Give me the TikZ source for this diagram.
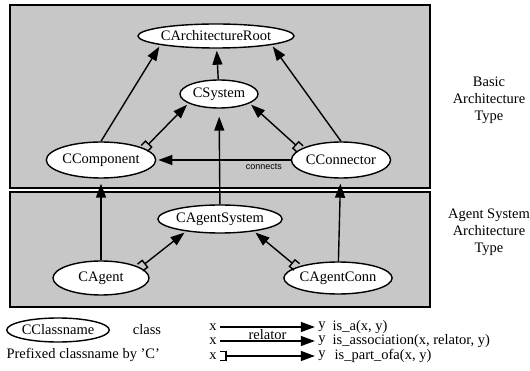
\documentclass[tikz,border=0pt]{standalone}
\usepackage{fontspec}
\setmainfont{Liberation Serif}
\setsansfont{Liberation Sans}
\usetikzlibrary{arrows.meta}
\usetikzlibrary{positioning}
\usetikzlibrary{shapes.geometric}

\begin{document}
\begin{tikzpicture}[x=1pt, y=-1pt, font=\fontsize{14.5}{17}\selectfont,
  cls/.style={ellipse, draw, line width=1.4pt, fill=white, inner sep=0pt},
  layer/.style={draw, line width=1.7pt, fill=black!22},
  isa/.style={line width=1.4pt, -{Triangle[length=14pt,width=10pt]}, shorten >=2pt},
  partof/.style={isa, {Bracket[reversed,width=10pt,length=6pt]}-{Triangle[length=14pt,width=10pt]}}]

\useasboundingbox (0,0) rectangle (530,371);

% the two layers
\draw[layer] (10,5) rectangle (430,188);
\draw[layer] (10,192) rectangle (430,307);
\node[align=center] (basic) at (489,100) {Basic\\Architecture\\Type};
\node[align=center] (agentsys) at (489,232) {Agent System\\Architecture\\Type};

% basic architecture classes
\node[cls, minimum width=112pt, minimum height=24pt] (root) at (216,36) {CArchitectureRoot};
\node[cls, minimum width=78pt, minimum height=28pt] (sys) at (219,94) {CSystem};
\node[cls, minimum width=96pt, minimum height=36pt] (comp) at (101,160) {CComponent};
\node[cls, minimum width=96pt, minimum height=36pt] (conn) at (341,160) {CConnector};

% agent system classes
\node[cls, minimum width=92pt, minimum height=28pt] (asys) at (220,219) {CAgentSystem};
\node[cls, minimum width=96pt, minimum height=34pt] (agent) at (101,278) {CAgent};
\node[cls, minimum width=92pt, minimum height=32pt] (aconn) at (338,278) {CAgentConn};

\draw[isa] (comp.north) -- (root.south west);
\draw[isa] (sys) -- (root);
\draw[isa] (conn.north) -- (root.south east);
\draw[partof] (comp.15) -- (sys.197);
\draw[partof] (conn.165) -- (sys.-17);
\draw[isa] (conn) -- node[below, pos=0.2, font=\sffamily\fontsize{9}{10}\selectfont] (lconn) {connects} (comp);

\draw[isa, shorten >=8pt] (asys) -- (sys);
\draw[isa, shorten >=5pt] (agent) -- (comp);
\draw[isa, shorten >=5pt] (aconn) -- (conn);
\draw[partof] (agent.15) -- (asys.200);
\draw[partof] (aconn.165) -- (asys.-20);

% legend
\node[cls, minimum width=86pt, minimum height=24pt] (lcls) at (58,330) {CClassname};
\node (lclass) at (147,330) {class};
\node[anchor=west] (lprefix) at (3,355) {Prefixed classname by 'C'};

\foreach \i/\y in {1/327, 2/341, 3/356} {
  \node (lx\i) at (213,\y) {x};
  \node (ly\i) at (322,\y) {y};
}
\draw[isa, shorten >=0pt] (lx1) -- (ly1);
\draw[isa, shorten >=0pt] (lx2) -- node[above, inner sep=0.5pt] (lrel) {relator} (ly2);
\draw[partof, shorten >=0pt] (lx3) -- (ly3);
\node[right=0pt of ly1] (fisa) {is\_a(x, y)};
\node[right=0pt of ly2] (fassoc) {is\_association(x, relator, y)};
\node[right=2pt of ly3] (fpart) {is\_part\_ofa(x, y)};

\end{tikzpicture}
\end{document}
